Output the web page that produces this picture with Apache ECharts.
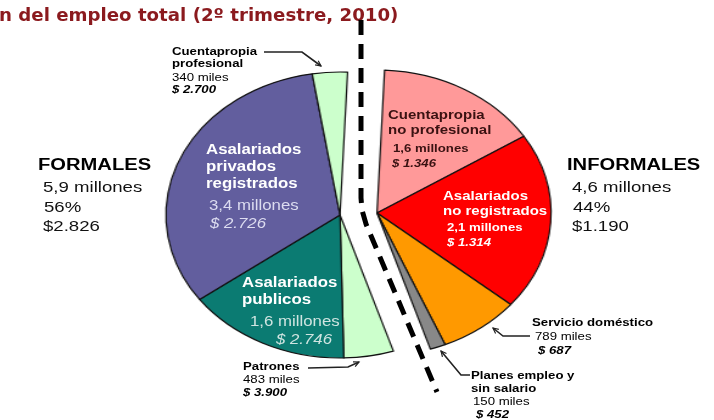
<!DOCTYPE html>
<html>
<head>
<meta charset="utf-8">
<script src="https://cdn.jsdelivr.net/npm/echarts@6/dist/echarts.min.js"></script>
<style>
  body { margin: 0; background: #fff; }
  #wrap { position: relative; width: 714px; height: 420px; overflow: hidden; }
  #pie, #main { position: absolute; left: 0; top: 0; width: 714px; height: 420px; }
  /* the slide was stretched, so the pie is an ellipse */
  #pie { transform: scaleX(1.217); transform-origin: 358px 214px; }
</style>
</head>
<body>
<div id="wrap"><div id="pie"></div><div id="main"></div></div>
<script>
// empleo, miles de personas (2º trimestre 2010)
var titleText = 'n del empleo total (2º trimestre, 2010)';

// formales, en orden horario desde abajo
var formalNames = ['Patrones', 'Asalariados\npublicos', 'Asalariados\nprivados\nregistrados', 'Cuentapropia\nprofesional'];
var formalValues = [483, 1600, 3400, 340];
var formalSizes = ['483 miles', '1,6 millones', '3,4 millones', '340 miles'];
var formalWages = ['$ 3.900', '$ 2.746', '$ 2.726', '$ 2.700'];
var formalColors = ['#ccffcc', '#0b7b72', '#625e9e', '#ccffcc'];

// informales, en orden horario desde arriba
var informalNames = ['Cuentapropia\nno profesional', 'Asalariados\nno registrados', 'Servicio doméstico', 'Planes empleo y\nsin salario'];
var informalValues = [1600, 2100, 789, 150];
var informalSizes = ['1,6 millones', '2,1 millones', '789 miles', '150 miles'];
var informalWages = ['$ 1.346', '$ 1.314', '$ 687', '$ 452'];
var informalColors = ['#ff9999', '#ff0000', '#ff9900', '#888888'];

var formalTotals = ['FORMALES', '5,9 millones', '56%', '$2.826'];
var informalTotals = ['INFORMALES', '4,6 millones', '44%', '$1.190'];

function sum(a) { return a.reduce(function (s, v) { return s + v; }, 0); }

function items(names, values, colors) {
    return names.map(function (n, i) {
        return { name: n, value: values[i], itemStyle: { color: colors[i] } };
    });
}
var filler = function (v) {
    return { name: '', value: v, itemStyle: { color: 'rgba(0,0,0,0)', borderWidth: 0 } };
};

var pieChart = echarts.init(document.getElementById('pie'), null, { width: 714, height: 420 });
var pieBase = {
    type: 'pie',
    radius: 143,
    startAngle: 87.5,
    clockwise: true,
    silent: true,
    animation: false,
    label: { show: false },
    labelLine: { show: false },
    itemStyle: { borderColor: '#111', borderWidth: 1.2 }
};
pieChart.setOption({
    series: [
        Object.assign({}, pieBase, {
            center: [373.6, 213],
            data: items(informalNames, informalValues, informalColors).concat([filler(sum(formalValues))])
        }),
        Object.assign({}, pieBase, {
            center: [343.2, 215],
            data: [filler(sum(informalValues))].concat(items(formalNames, formalValues, formalColors))
        })
    ]
});

// textos y anotaciones
var SX = 1.2;
function txt(x, y, text, font, fill, sx) {
    return {
        type: 'text', x: x, y: y, scaleX: sx || SX, silent: true,
        style: { text: text, font: font, fill: fill, textVerticalAlign: 'middle', verticalAlign: 'middle' }
    };
}

// posicion y estilo de cada etiqueta
var formalLabelStyle = [
    { x: 243, ys: [367, 380, 393], ns: 11, nc: '#000', vf: '', vs: 11, vc: '#000', wf: 'italic bold', wc: '#000', vdx: 0, wdx: 0 },
    { x: 242, ys: [283, 300, 322, 340], ns: 14, nc: '#fff', vf: '', vs: 14, vc: '#cfe4e0', wf: 'italic', wc: '#cfe4e0', vdx: 8, wdx: 34 },
    { x: 206, ys: [150, 167, 184, 206, 224], ns: 14, nc: '#fff', vf: '', vs: 14, vc: '#dcdcf0', wf: 'italic', wc: '#dcdcf0', vdx: 3, wdx: 4 },
    { x: 172, ys: [52, 64, 78, 90], ns: 11, nc: '#000', vf: '', vs: 11, vc: '#000', wf: 'italic bold', wc: '#000', vdx: 0, wdx: 0 }
];
var informalLabelStyle = [
    { x: 388, ys: [116, 131, 149, 164], ns: 12.5, nc: '#3a1212', vf: 'bold', vs: 11, vc: '#3a1212', wf: 'italic bold', wc: '#3a1212', vdx: 5, wdx: 4 },
    { x: 443, ys: [197, 212, 228, 243], ns: 12.5, nc: '#fff', vf: 'bold', vs: 11, vc: '#fff', wf: 'italic bold', wc: '#fff', vdx: 4, wdx: 4 },
    { x: 532, ys: [323, 337, 351], ns: 11, nc: '#000', vf: '', vs: 11, vc: '#000', wf: 'italic bold', wc: '#000', vdx: 3, wdx: 6 },
    { x: 471, ys: [376, 389, 402, 415], ns: 11, nc: '#000', vf: '', vs: 11, vc: '#000', wf: 'italic bold', wc: '#000', vdx: 2, wdx: 5 }
];

var FONT = '"Liberation Sans", Arial, sans-serif';
function sliceLabel(name, size, wage, s) {
    var out = [];
    var lines = name.split('\n');
    lines.forEach(function (l, i) {
        out.push(txt(s.x, s.ys[i], l, 'bold ' + s.ns + 'px ' + FONT, s.nc));
    });
    var n = lines.length;
    out.push(txt(s.x + s.vdx, s.ys[n], size, s.vf + ' ' + s.vs + 'px ' + FONT, s.vc));
    out.push(txt(s.x + s.wdx, s.ys[n + 1], wage, s.wf + ' ' + s.vs + 'px ' + FONT, s.wc));
    return out;
}

function arrow(points) {
    var p0 = points[points.length - 2], p1 = points[points.length - 1];
    var a = Math.atan2(p1[1] - p0[1], p1[0] - p0[0]);
    var L = 6, w = 0.45;
    var head = [
        [p1[0] - L * Math.cos(a - w), p1[1] - L * Math.sin(a - w)],
        p1,
        [p1[0] - L * Math.cos(a + w), p1[1] - L * Math.sin(a + w)]
    ];
    return [
        { type: 'polyline', silent: true, shape: { points: points }, style: { stroke: '#222', lineWidth: 1.6, fill: null } },
        { type: 'polyline', silent: true, shape: { points: head }, style: { stroke: '#222', lineWidth: 1.2, fill: null } }
    ];
}

var elements = [];
elements.push(txt(-1, 17, titleText, 'bold 17px "DejaVu Sans"', '#8b1a1e', 1.07));

elements.push({
    type: 'polyline', silent: true,
    shape: { points: [[361, 20], [361, 198], [362, 210], [366, 224], [437, 392]] },
    style: { stroke: '#000', lineWidth: 5, lineDash: [15, 9], fill: null }
});

formalNames.forEach(function (n, i) {
    elements = elements.concat(sliceLabel(n, formalSizes[i], formalWages[i], formalLabelStyle[i]));
});
informalNames.forEach(function (n, i) {
    elements = elements.concat(sliceLabel(n, informalSizes[i], informalWages[i], informalLabelStyle[i]));
});

elements = elements.concat(arrow([[264, 52], [302, 52], [321, 66]]));
elements = elements.concat(arrow([[308, 368], [348, 367], [359, 362]]));
elements = elements.concat(arrow([[530, 336], [503, 336], [493, 328]]));
elements = elements.concat(arrow([[470, 375], [461, 375], [441, 351]]));

// totales
[[38, formalTotals], [567, informalTotals]].forEach(function (t) {
    var x = t[0], v = t[1];
    elements.push(txt(x, 166, v[0], '900 16px ' + FONT, '#000', 1.26));
    elements.push(txt(x + 5, 188, v[1], '15.5px ' + FONT, '#111'));
    elements.push(txt(x + 6, 208, v[2], '15.5px ' + FONT, '#111'));
    elements.push(txt(x + 5, 227, v[3], '15.5px ' + FONT, '#111'));
});

var chart = echarts.init(document.getElementById('main'), null, { width: 714, height: 420 });
chart.setOption({
    animation: false,
    graphic: { elements: elements }
});
</script>
</body>
</html>
